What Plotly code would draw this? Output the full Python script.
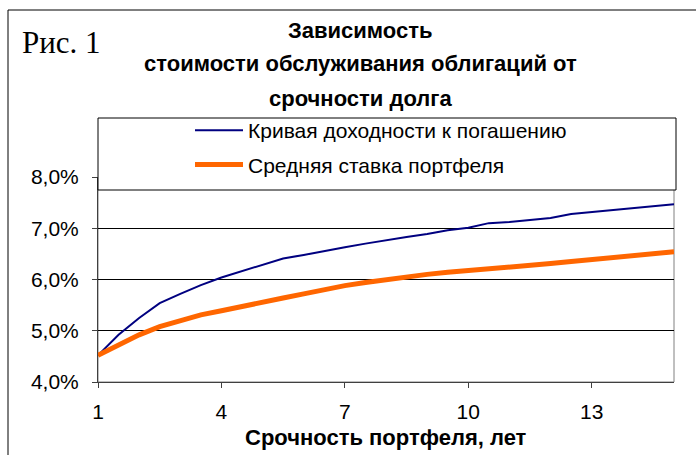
import plotly.graph_objects as go

# Срочность (лет) и ставки, %
maturity = [1, 1.5, 2, 2.5, 3, 3.5, 4, 4.5, 5, 5.5, 6, 6.5, 7, 7.5, 8,
            8.5, 9, 9.5, 10, 10.5, 11, 11.5, 12, 12.5, 13, 13.5, 14, 14.5, 15]
ytm_curve = [4.52, 4.92, 5.25, 5.54, 5.72, 5.89, 6.04, 6.16, 6.29, 6.41,
             6.48, 6.56, 6.63, 6.70, 6.77, 6.83, 6.89, 6.96, 7.01, 7.10,
             7.12, 7.16, 7.20, 7.28, 7.32, 7.35, 7.39, 7.43, 7.47]
portfolio_rate = [4.52, 4.72, 4.92, 5.08, 5.19, 5.31, 5.39, 5.48, 5.56, 5.64,
                  5.72, 5.81, 5.88, 5.94, 6.00, 6.05, 6.10, 6.14, 6.17, 6.20,
                  6.23, 6.27, 6.31, 6.35, 6.39, 6.43, 6.46, 6.50, 6.54]

x_ticks = [1, 4, 7, 10, 13]
y_ticks = [4, 5, 6, 7, 8]
y_tick_text = [f"{v:.1f}%".replace(".", ",") for v in y_ticks]

series_names = ["Кривая доходности к погашению", "Средняя ставка портфеля"]
title_lines = ["Зависимость", "стоимости обслуживания облигаций от", "срочности долга"]
x_title = "Срочность портфеля, лет"
fig_label = "Рис. 1"

W, H = 696, 455
L, R, T, B = 98, 22, 177, 73
PW, PH = W - L - R, H - T - B


def px(x):
    return (x - L) / PW


def py(y):
    return (H - B - y) / PH


SANS = "Liberation Sans, Arial, sans-serif"

fig = go.Figure()
fig.add_trace(go.Scatter(x=maturity, y=ytm_curve, mode="lines", name=series_names[0],
                         line=dict(color="#000080", width=2), legendgroup="a"))
fig.add_trace(go.Scatter(x=maturity, y=portfolio_rate, mode="lines", name=series_names[1],
                         line=dict(color="#FF6600", width=5), legendgroup="b"))

shapes = [
    # plot area frame
    dict(type="rect", xref="paper", yref="paper", x0=0, x1=1, y0=0, y1=1,
         line=dict(color="#808080", width=1), layer="below"),
    # legend box
    dict(type="rect", xref="paper", yref="paper", x0=px(98), x1=px(676), y0=py(190), y1=py(118),
         line=dict(color="black", width=1), fillcolor="white", layer="above"),
    # outer chart frame (left and top edges)
    dict(type="line", xref="paper", yref="paper", x0=px(8), x1=px(8), y0=py(455), y1=py(10),
         line=dict(color="black", width=1)),
    dict(type="line", xref="paper", yref="paper", x0=px(8), x1=px(700), y0=py(10), y1=py(10),
         line=dict(color="black", width=1)),
]

annotations = [
    dict(text=f"<b>{t}</b>", x=px(360), y=py(yc), xref="paper", yref="paper",
         xanchor="center", yanchor="middle", showarrow=False,
         font=dict(family=SANS, size=22, color="black"))
    for t, yc in zip(title_lines, [30, 64, 98])
]
annotations.append(dict(text=fig_label, x=px(20), y=py(42), xref="paper", yref="paper",
                        xanchor="left", yanchor="middle", showarrow=False,
                        font=dict(family="Liberation Serif, Times New Roman, serif", size=31, color="black")))
annotations.append(dict(text=f"<b>{x_title}</b>", x=px(386), y=py(437), xref="paper", yref="paper",
                        xanchor="center", yanchor="middle", showarrow=False,
                        font=dict(family=SANS, size=22, color="black")))

fig.update_layout(
    width=W, height=H,
    margin=dict(l=L, r=R, t=T, b=B),
    paper_bgcolor="white", plot_bgcolor="white",
    showlegend=True,
    legend=dict(x=px(190), y=py(110), xanchor="left", yanchor="top",
                bgcolor="rgba(0,0,0,0)", borderwidth=0,
                font=dict(family=SANS, size=21, color="black"),
                traceorder="grouped", tracegroupgap=4, itemwidth=48),
    shapes=shapes,
    annotations=annotations,
    xaxis=dict(range=[1, 15], tickvals=x_ticks, ticks="outside", ticklen=5,
               tickcolor="#404040", showline=True, linecolor="#404040", linewidth=1,
               showgrid=False, zeroline=False, ticklabelstandoff=6,
               tickfont=dict(family=SANS, size=21, color="black")),
    yaxis=dict(range=[4, 8], tickvals=y_ticks, ticktext=y_tick_text, ticks="outside", ticklen=5,
               tickcolor="#404040", showline=True, linecolor="#404040", linewidth=1,
               showgrid=True, gridcolor="black", gridwidth=1, zeroline=False,
               ticklabelstandoff=9,
               tickfont=dict(family=SANS, size=21, color="black")),
)

fig.write_html("out.html")
